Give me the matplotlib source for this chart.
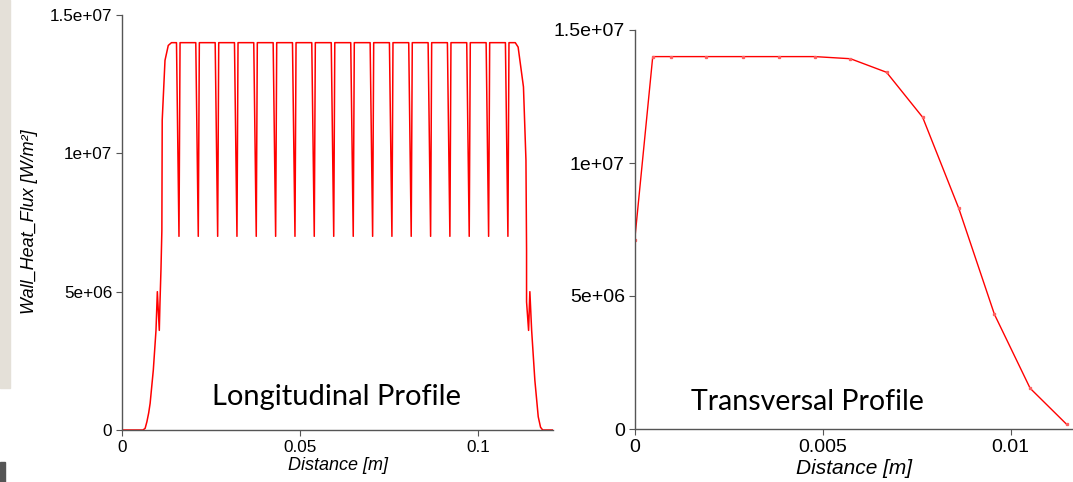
import matplotlib
matplotlib.use("Agg")
import matplotlib.pyplot as plt
from matplotlib.patches import Rectangle

# ---- longitudinal profile (Distance [m], Wall_Heat_Flux [W/m2]) ----
rise_x = [0.0, 0.0059, 0.0065, 0.0070, 0.0075, 0.0079, 0.0088, 0.00955, 0.00993,
          0.01048, 0.01067, 0.01095, 0.0112, 0.0113, 0.01208, 0.0130, 0.0139, 0.0150]
rise_y = [0.0, 0.0, 0.06e6, 0.3e6, 0.62e6, 0.96e6, 2.17e6, 3.6e6, 5.0e6,
          3.6e6, 4.6e6, 5.8e6, 7.2e6, 1.12e7, 1.336e7, 1.39e7, 1.40e7, 1.40e7]
fall_x = [0.1105, 0.1113, 0.1128, 0.1135, 0.11367, 0.11367, 0.11424, 0.1146,
          0.1151, 0.1160, 0.11695, 0.1176, 0.1182, 0.1211]
fall_y = [1.40e7, 1.384e7, 1.24e7, 9.75e6, 6.5e6, 4.63e6, 3.6e6, 5.0e6,
          3.6e6, 1.8e6, 0.48e6, 0.1e6, 0.0, 0.0]
dip_centers = [0.01601, 0.02143, 0.02688, 0.03230, 0.03772, 0.04317,
               0.04860, 0.05402, 0.05949, 0.06497, 0.07042, 0.07584,
               0.08126, 0.08671, 0.09213, 0.09756, 0.10301, 0.10843]
plateau = 1.40e7
dip_floor = 7.0e6
dip_left, dip_right = 0.0007, 0.0003

# ---- transversal profile ----
tr_x = [0.0, 0.00048, 0.00096, 0.00191, 0.00287, 0.00383, 0.00479,
        0.00574, 0.0067, 0.00766, 0.00862, 0.00957, 0.01052, 0.01149]
tr_y = [7.1e6, 1.40e7, 1.40e7, 1.40e7, 1.40e7, 1.40e7, 1.40e7,
        1.392e7, 1.341e7, 1.172e7, 8.30e6, 4.31e6, 1.53e6, 1.77e5]

y_ticks = [0, 5e6, 1e7, 1.5e7]
y_tick_labels = ["0", "5e+06", "1e+07", "1.5e+07"]
long_x_ticks = [0, 0.05, 0.1]
long_x_labels = ["0", "0.05", "0.1"]
tr_x_ticks = [0, 0.005, 0.01]
tr_x_labels = ["0", "0.005", "0.01"]

# build the longitudinal line
lx = list(rise_x)
ly = list(rise_y)
for c in dip_centers:
    lx += [c - dip_left, c, c + dip_right]
    ly += [plateau, dip_floor, plateau]
lx += fall_x
ly += fall_y

RED = "#ff0000"
AX = "#555555"
W, H = 1073, 482

fig = plt.figure(figsize=(W / 100, H / 100), dpi=100)
fig.patch.set_facecolor("white")

# screenshot leftovers on the left edge
fig.patches.append(Rectangle((0, 1 - 388 / H), 10 / W, 388 / H,
                             transform=fig.transFigure, color="#e4e0d8", zorder=0))
fig.patches.append(Rectangle((0, 0), 5 / W, 20 / H,
                             transform=fig.transFigure, color="#555555", zorder=0))


def style(ax, fs):
    for s in ("top", "right"):
        ax.spines[s].set_visible(False)
    for s in ("left", "bottom"):
        ax.spines[s].set_color(AX)
        ax.spines[s].set_linewidth(1.0)
    ax.tick_params(direction="out", length=4, width=0.8, color=AX,
                   labelsize=fs, pad=3)
    for t in ax.get_xticklabels() + ax.get_yticklabels():
        t.set_family("Liberation Sans")
    ax.set_facecolor("none")


# left panel
ax1 = fig.add_axes([122 / W, 1 - 430 / H, (553 - 122) / W, (430 - 15) / H])
ax1.plot(lx, ly, color=RED, lw=1.1)
ax1.set_xlim(0, 0.1211)
ax1.set_ylim(0, 1.5e7)
ax1.set_yticks(y_ticks, y_tick_labels)
ax1.set_xticks(long_x_ticks, long_x_labels)
style(ax1, 12.3)
ax1.set_xlabel("Distance [m]", fontsize=13, style="italic",
               family="Liberation Sans", labelpad=2)
fig.text(30 / W, 1 - 222 / H, "Wall_Heat_Flux [W/m²]", rotation=90,
         ha="center", va="center", fontsize=13, style="italic",
         family="Liberation Sans")
ax1.text(337 / W, 1 - 397 / H, "Longitudinal Profile", transform=fig.transFigure,
         ha="center", va="center", fontsize=21, family="Lato")

# right panel
ax2 = fig.add_axes([634.7 / W, 1 - 429 / H, (W - 634.7) / W, (429 - 30) / H])
ax2.plot(tr_x, tr_y, color=RED, lw=1.0, marker="s", ms=1.4,
         mfc="#ff6060", mec="#ff6060")
ax2.set_xlim(0, 0.01166)
ax2.set_ylim(0, 1.5e7)
ax2.set_yticks(y_ticks, y_tick_labels)
ax2.set_xticks(tr_x_ticks, tr_x_labels)
style(ax2, 14)
ax2.set_xlabel("Distance [m]", fontsize=15, style="italic",
               family="Liberation Sans", labelpad=2)
ax2.text(807 / W, 1 - 402 / H, "Transversal Profile", transform=fig.transFigure,
         ha="center", va="center", fontsize=20.5, family="Lato")

fig.savefig("out.png", dpi=100)
